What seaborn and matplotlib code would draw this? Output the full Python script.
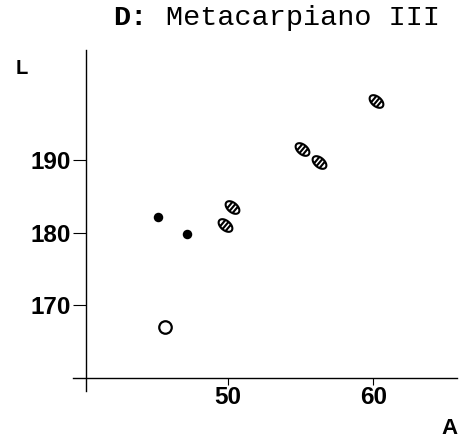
import numpy as np
import pandas as pd
import matplotlib
matplotlib.use("Agg")
import matplotlib.pyplot as plt
import seaborn as sns
from matplotlib.path import Path

# ---- data ----
filled_A = [45.2, 47.2]
filled_L = [182.2, 179.8]
open_A = [45.7]
open_L = [167.0]
hatched_A = [50.3, 49.8, 55.1, 56.3, 60.2]
hatched_L = [183.6, 181.1, 191.6, 189.8, 198.2]
x_ticks = [50, 60]
y_ticks = [170, 180, 190]
title_prefix = "D:"
title_rest = "Metacarpiano III"
x_label = "A"
y_label = "L"

W, H, DPI = 468, 446, 100
sns.set_theme(style="white")
plt.rcParams["font.family"] = ["Liberation Sans", "DejaVu Sans"]

fig = plt.figure(figsize=(W / DPI, H / DPI), dpi=DPI)
fig.patch.set_facecolor("white")

def px(x, y):
    return x / W, 1 - y / H

ax = fig.add_axes([73 / W, 1 - 391 / H, 384 / W, 341 / H])
ax.set_facecolor("white")


def hatched_ellipse(a=8.0, b=4.8, angle=-40, n=72, stripes=(-0.45, 0.0, 0.45)):
    t = np.linspace(0, 2 * np.pi, n)
    verts = [(a * np.cos(v), b * np.sin(v)) for v in t]
    codes = [Path.MOVETO] + [Path.LINETO] * (n - 2) + [Path.CLOSEPOLY]
    for u in stripes:
        h = b * np.sqrt(1 - u ** 2)
        verts += [(u * a, -h), (u * a, h)]
        codes += [Path.MOVETO, Path.LINETO]
    verts = np.array(verts)
    th = np.deg2rad(angle)
    R = np.array([[np.cos(th), -np.sin(th)], [np.sin(th), np.cos(th)]])
    verts = verts @ R.T
    m = np.abs(verts).max()
    return Path(verts, codes), 2 * m


hpath, hsize_px = hatched_ellipse()

df_f = pd.DataFrame({"A": filled_A, "L": filled_L})
df_o = pd.DataFrame({"A": open_A, "L": open_L})
df_h = pd.DataFrame({"A": hatched_A, "L": hatched_L})

sns.scatterplot(data=df_f, x="A", y="L", ax=ax, marker="o", s=(9.5 * 0.72) ** 2,
                color="black", edgecolor="black", linewidth=0, zorder=3)
sns.scatterplot(data=df_o, x="A", y="L", ax=ax, marker="o", s=(12.5 * 0.72) ** 2,
                facecolor="white", edgecolor="black", linewidth=1.6, zorder=3)
sns.scatterplot(data=df_h, x="A", y="L", ax=ax, marker=hpath,
                s=(hsize_px * 0.72) ** 2, facecolor="white", edgecolor="black",
                linewidth=1.5, zorder=3)

# limits: x 73px->39.375, 457px->65.75 ; y 391px->158.2, 50px->205.2
ax.set_xlim(39.375, 65.75)
ax.set_ylim(158.2, 205.2)

for s in ["top", "right"]:
    ax.spines[s].set_visible(False)
ax.spines["left"].set_position(("data", 40.3))
ax.spines["bottom"].set_position(("data", 160))
for s in ["left", "bottom"]:
    ax.spines[s].set_color("black")
    ax.spines[s].set_linewidth(1.0)

ax.set_xticks(x_ticks)
ax.set_yticks(y_ticks)
ax.set_xticklabels([str(v) for v in x_ticks])
ax.set_yticklabels([str(v) for v in y_ticks])
ax.tick_params(axis="y", direction="out", length=9.5, width=0.8, pad=2,
               colors="black", labelsize=17.5, left=True)
ax.tick_params(axis="x", direction="out", length=5, width=0.8, pad=1,
               colors="black", labelsize=17.5, bottom=True)
for lab in ax.get_xticklabels() + ax.get_yticklabels():
    lab.set_fontweight("bold")
ax.set_xlabel("")
ax.set_ylabel("")

# axis letters
fig.text(*px(22, 69), y_label, ha="center", va="center", fontsize=14.5,
         fontweight="bold", color="black")
fig.text(*px(449, 428), x_label, ha="center", va="center", fontsize=16,
         fontweight="bold", color="black")

# title
fig.text(*px(113, 25), title_prefix, ha="left", va="baseline",
         family=["Liberation Mono", "DejaVu Sans Mono"], fontweight="bold",
         fontsize=20.5, color="black")
fig.text(*px(166, 25), title_rest, ha="left", va="baseline",
         family=["Liberation Mono", "DejaVu Sans Mono"], fontsize=20.5,
         color="black")

fig.savefig("out.png", dpi=DPI, facecolor="white")
